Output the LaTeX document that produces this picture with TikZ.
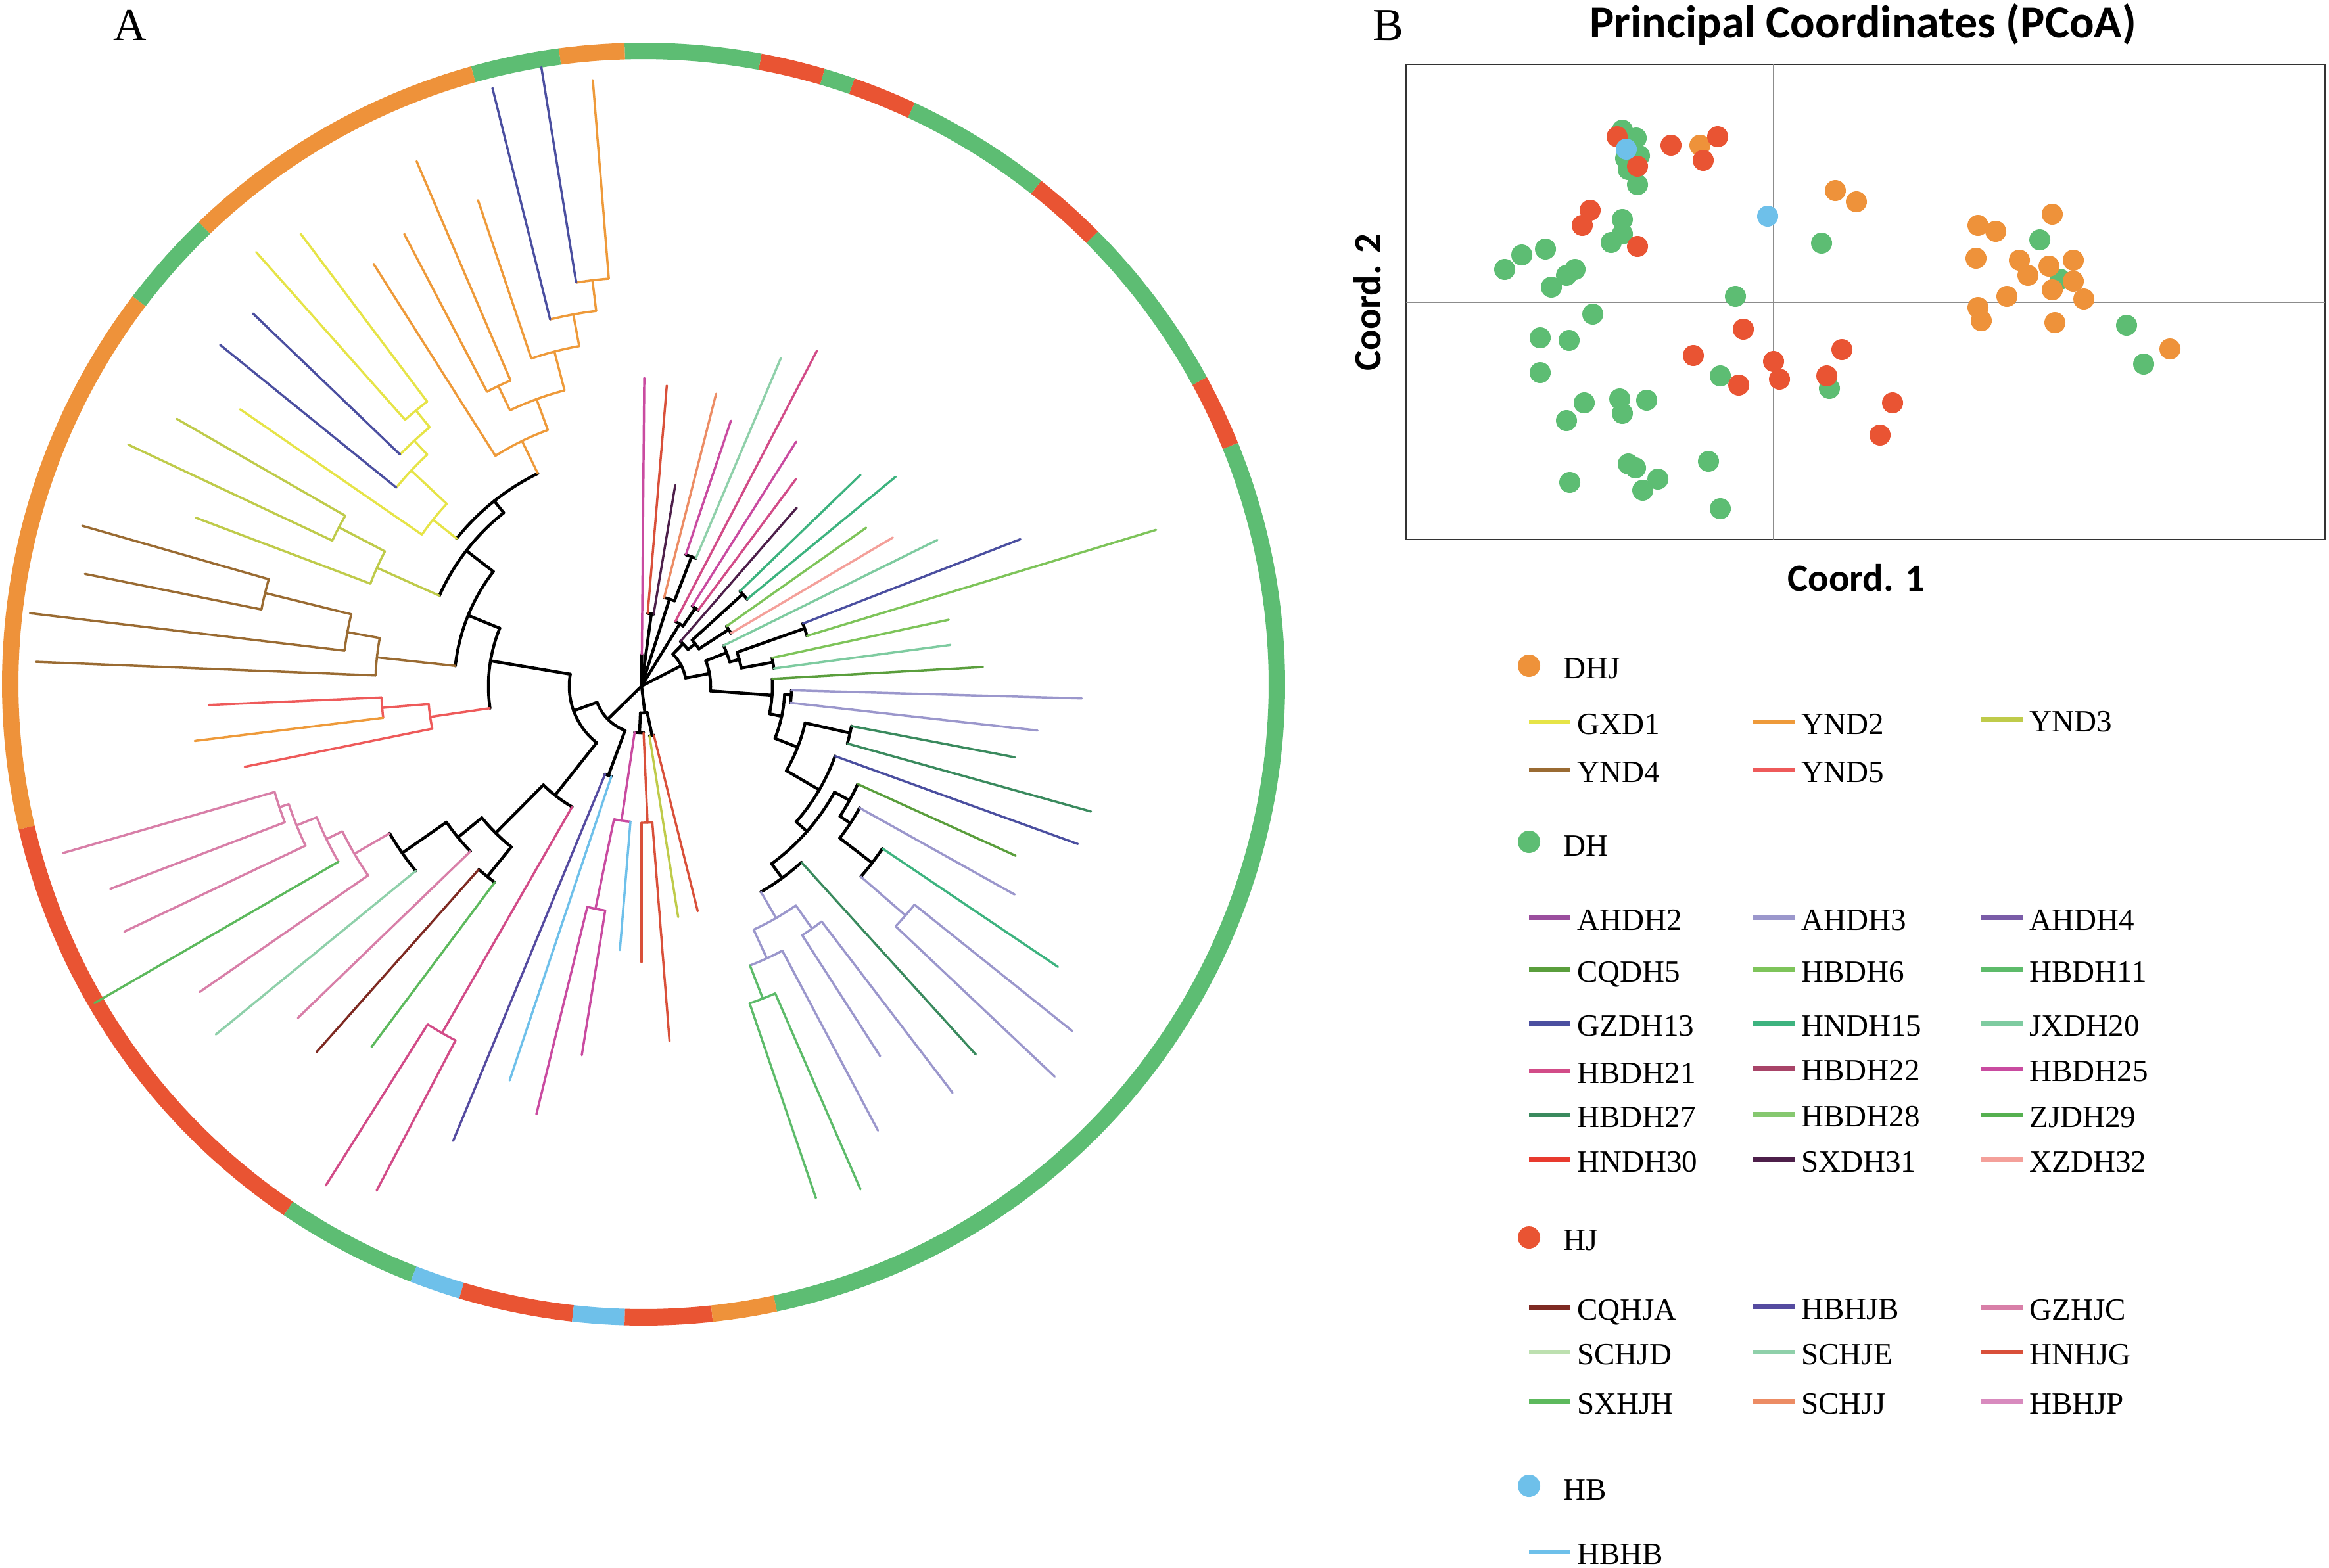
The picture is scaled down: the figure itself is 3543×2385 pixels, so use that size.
\documentclass[tikz,border=0pt]{standalone}
\usepackage{fontspec}
\setmainfont{Liberation Serif}
\newfontfamily\carlitofont{Carlito}
% group colours
\definecolor{dhjc}{RGB}{238,146,58}
\definecolor{dhc}{RGB}{93,189,115}
\definecolor{hjc}{RGB}{233,84,51}
\definecolor{hbc}{RGB}{110,192,234}
% population colours
\definecolor{gxd1}{RGB}{230,228,71}
\definecolor{ynd2}{RGB}{238,154,58}
\definecolor{ynd3}{RGB}{191,203,74}
\definecolor{ynd4}{RGB}{154,107,50}
\definecolor{ynd5}{RGB}{238,90,90}
\definecolor{ahdh2}{RGB}{155,78,158}
\definecolor{ahdh3}{RGB}{155,151,204}
\definecolor{ahdh4}{RGB}{122,92,168}
\definecolor{cqdh5}{RGB}{90,158,60}
\definecolor{hbdh6}{RGB}{126,196,90}
\definecolor{hbdh11}{RGB}{93,187,106}
\definecolor{gzdh13}{RGB}{75,79,160}
\definecolor{hndh15}{RGB}{61,179,127}
\definecolor{jxdh20}{RGB}{126,203,160}
\definecolor{hbdh21}{RGB}{210,76,136}
\definecolor{hbdh22}{RGB}{168,68,104}
\definecolor{hbdh25}{RGB}{201,75,160}
\definecolor{hbdh27}{RGB}{58,138,94}
\definecolor{hbdh28}{RGB}{134,200,112}
\definecolor{zjdh29}{RGB}{85,176,80}
\definecolor{hndh30}{RGB}{232,58,46}
\definecolor{sxdh31}{RGB}{77,31,74}
\definecolor{xzdh32}{RGB}{244,160,154}
\definecolor{cqhja}{RGB}{126,42,34}
\definecolor{hbhjb}{RGB}{85,75,160}
\definecolor{gzhjc}{RGB}{216,127,168}
\definecolor{schjd}{RGB}{189,224,176}
\definecolor{schje}{RGB}{143,208,170}
\definecolor{hnhjg}{RGB}{217,80,58}
\definecolor{sxhjh}{RGB}{93,185,93}
\definecolor{schjj}{RGB}{236,140,100}
\definecolor{hbhjp}{RGB}{216,138,190}
\definecolor{hbhb}{RGB}{110,192,234}
% radial branch: angle, inner r, outer r, colour
\newcommand{\trbranch}[4]{\draw[#4] (#1:#2) -- (#1:#3);}
% connecting arc: start angle, end angle, r, colour
\newcommand{\trarc}[4]{\draw[#4] (#1:#3) arc[start angle=#1,end angle=#2,radius=#3];}
\begin{document}
\begin{tikzpicture}[x=0.75pt,y=0.75pt,yscale=-1,xscale=1,
  kk/.style={black,line width=3.4pt},
  lgtxt/.style={anchor=base west,inner sep=0pt,font=\fontsize{35.3}{40}\selectfont},
  axtxt/.style={inner sep=0.75pt,font=\carlitofont\bfseries\fontsize{44}{50}\selectfont}]
\useasboundingbox (0,0) rectangle (3543,2385);
\fill[white] (0,0) rectangle (3543,2385);

% Text Node
\draw (198,61) node [anchor=base][inner sep=0.75pt,font=\fontsize{52.5}{60}\selectfont] (labA) {A};
% Text Node
\draw (2112,61) node [anchor=base][inner sep=0.75pt,font=\fontsize{52.5}{60}\selectfont] (labB) {B};

%Shape: Ring of groups
\begin{scope}[shift={(979,1041)},yscale=-1,line width=18.75pt,line cap=butt]
\foreach \a/\b/\c in {-78/22.1/dhc, 22.1/28.6/hjc, 28.6/44.9/dhc, 44.9/51.7/hjc, 51.7/65/dhc,
  65/70.8/hjc, 70.8/73.6/dhc, 73.6/79.4/hjc, 79.4/91.7/dhc, 91.7/97.6/dhjc, 97.6/105.6/dhc,
  105.6/133.9/dhjc, 133.9/142.8/dhc, 142.8/193.1/dhjc, 193.1/235.9/hjc, 235.9/248.7/dhc,
  248.7/253.3/hbc, 253.3/263.6/hjc, 263.6/268.3/hbc, 268.3/276.2/hjc, 276.2/282/dhjc}
  \draw[\c] (\a:963.5) arc[start angle=\a,end angle=\b,radius=963.5];
\end{scope}

%Shape: Tree
\begin{scope}[shift={(976,1044)},yscale=-1,line width=2.6pt,line cap=round]
% upper fan at the root
\trbranch{89.5}{0}{48}{kk}
\trbranch{89.5}{48}{469}{hbdh25}
\trbranch{82.3}{0}{111}{kk}
\trarc{80.5}{85.2}{111}{kk}
\trbranch{85.2}{111}{459}{hnhjg}
\trbranch{80.5}{111}{310}{sxdh31}
\trbranch{72.2}{0}{139}{kk}
\trarc{68.9}{75.7}{139}{kk}
\trbranch{75.7}{139}{459}{schjj}
\trbranch{68.9}{139}{211}{kk}
\trarc{67}{71.4}{211}{kk}
\trbranch{71.4}{211}{426}{hbdh25}
\trbranch{67}{211}{542}{schje}
\trbranch{58.5}{0}{111}{kk}
\trarc{55.4}{62.4}{111}{kk}
\trbranch{62.4}{111}{576}{hbdh21}
\trbranch{55.4}{111}{144}{kk}
\trarc{53.3}{57.7}{144}{kk}
\trbranch{57.7}{144}{440}{hbdh25}
\trbranch{53.3}{144}{393}{hbdh21}
% right side
\trbranch{27.3}{0}{68}{kk}
\trarc{10.5}{45.6}{68}{kk}
\trbranch{45.6}{68}{90}{kk}
\trarc{38.3}{49}{90}{kk}
\trbranch{49}{90}{360}{sxdh31}
\trbranch{38.3}{90}{104}{kk}
\trarc{33}{42.3}{104}{kk}
\trbranch{42.3}{104}{208}{kk}
\trarc{39.5}{44}{208}{kk}
\trbranch{44}{208}{463}{hndh15}
\trbranch{39.5}{208}{501}{hndh15}
\trbranch{33}{104}{158}{kk}
\trarc{30.6}{35.2}{158}{kk}
\trbranch{35.2}{158}{418}{hbdh6}
\trbranch{30.6}{158}{444}{xzdh32}
\trbranch{10.5}{68}{105}{kk}
\trarc{-4}{21.5}{105}{kk}
\trbranch{21.5}{105}{139}{kk}
\trarc{15.3}{26.3}{139}{kk}
\trbranch{26.3}{139}{502}{jxdh20}
\trbranch{15.3}{139}{154}{kk}
\trarc{10.3}{19.5}{154}{kk}
\trbranch{19.5}{154}{263}{kk}
\trarc{16.9}{21.2}{263}{kk}
\trbranch{21.2}{263}{618}{gzdh13}
\trbranch{16.9}{263}{818}{hbdh6}
\trbranch{10.3}{154}{203}{kk}
\trarc{7.6}{12.2}{203}{kk}
\trbranch{12.2}{203}{478}{hbdh6}
\trbranch{7.6}{203}{474}{jxdh20}
\trbranch{-4}{105}{199}{kk}
\trarc{-12.2}{3.2}{199}{kk}
\trbranch{3.2}{199}{520}{cqdh5}
\trbranch{-12.2}{199}{218}{kk}
\trarc{-21.4}{-3.3}{218}{kk}
\trbranch{-3.3}{218}{228}{kk}
\trarc{-6.4}{-1.6}{228}{kk}
\trbranch{-1.6}{228}{670}{ahdh3}
\trbranch{-6.4}{228}{606}{ahdh3}
\trbranch{-21.4}{218}{255}{kk}
\trarc{-30.3}{-12.7}{255}{kk}
\trbranch{-12.7}{255}{325}{kk}
\trarc{-15.6}{-10.8}{325}{kk}
\trbranch{-10.8}{325}{578}{hbdh27}
\trbranch{-15.6}{325}{710}{hbdh27}
\trbranch{-30.3}{255}{313}{kk}
\trarc{-41.3}{-19.9}{313}{kk}
\trbranch{-19.9}{313}{706}{gzdh13}
\trbranch{-41.3}{313}{335}{kk}
\trarc{-53.8}{-28.8}{335}{kk}
\trbranch{-28.8}{335}{361}{kk}
\trarc{-33.3}{-24.4}{361}{kk}
\trbranch{-24.4}{361}{625}{cqdh5}
\trbranch{-33.3}{361}{380}{kk}
\trarc{-37.5}{-29.2}{380}{kk}
\trbranch{-29.2}{380}{650}{ahdh3}
\trbranch{-37.5}{380}{442}{kk}
\trarc{-41}{-34}{442}{kk}
\trbranch{-34}{442}{764}{hndh15}
\trbranch{-41}{442}{532}{ahdh3}
\trarc{-43.4}{-38.7}{532}{ahdh3}
\trbranch{-43.4}{532}{865}{ahdh3}
\trbranch{-38.7}{532}{840}{ahdh3}
\trbranch{-53.8}{335}{362}{kk}
\trarc{-59.9}{-47.8}{362}{kk}
\trbranch{-47.8}{362}{757}{hbdh27}
\trbranch{-59.9}{362}{408}{ahdh3}
\trarc{-65.3}{-54.9}{408}{ahdh3}
\trbranch{-54.9}{408}{451}{ahdh3}
\trarc{-57.2}{-52.6}{451}{ahdh3}
\trbranch{-57.2}{451}{670}{ahdh3}
\trbranch{-52.6}{451}{779}{ahdh3}
\trbranch{-65.3}{408}{456}{ahdh3}
\trarc{-68.8}{-62}{456}{ahdh3}
\trbranch{-62}{456}{766}{ahdh3}
\trbranch{-68.8}{456}{510}{hbdh11}
\trarc{-71.2}{-66.5}{510}{hbdh11}
\trbranch{-71.2}{510}{823}{hbdh11}
\trbranch{-66.5}{510}{835}{hbdh11}
% bottom
\trbranch{277}{0}{41}{kk}
\trarc{267.5}{282}{41}{kk}
\trbranch{267.5}{41}{71}{kk}
\trarc{261.5}{272.5}{71}{kk}
\trbranch{261.5}{71}{207}{hbdh25}
\trarc{258.3}{265.3}{207}{hbdh25}
\trbranch{258.3}{207}{346}{hbdh25}
\trarc{256.2}{260.8}{346}{hbdh25}
\trbranch{256.2}{346}{671}{hbdh25}
\trbranch{260.8}{346}{569}{hbdh25}
\trbranch{265.3}{207}{403}{hbhb}
\trbranch{272.5}{71}{208}{hnhjg}
\trarc{270}{274.5}{208}{hnhjg}
\trbranch{270}{208}{420}{hnhjg}
\trbranch{274.5}{208}{542}{hnhjg}
\trbranch{282}{41}{77}{kk}
\trarc{279}{284}{77}{kk}
\trbranch{279}{77}{356}{ynd3}
\trbranch{284}{77}{353}{hnhjg}
% bottom left
\trbranch{224.4}{0}{72}{kk}
\trarc{200}{249.6}{72}{kk}
\trbranch{249.6}{72}{145}{kk}
\trarc{247.5}{251.5}{145}{kk}
\trbranch{247.5}{145}{749}{hbhjb}
\trbranch{251.5}{145}{633}{hbhb}
\trbranch{200}{72}{110}{kk}
\trarc{170.5}{231.6}{110}{kk}
\trbranch{231.6}{110}{212}{kk}
\trarc{225.2}{240.1}{212}{kk}
\trbranch{240.1}{212}{609}{hbdh21}
\trarc{237.7}{242.3}{609}{hbdh21}
\trbranch{237.7}{609}{899}{hbdh21}
\trbranch{242.3}{609}{867}{hbdh21}
\trbranch{225.2}{212}{315}{kk}
\trarc{219.5}{231}{315}{kk}
\trbranch{231}{315}{373}{kk}
\trarc{228.4}{233.2}{373}{kk}
\trbranch{228.4}{373}{745}{cqhja}
\trbranch{233.2}{373}{686}{sxhjh}
\trbranch{219.5}{315}{362}{kk}
\trarc{214.9}{224}{362}{kk}
\trbranch{224}{362}{727}{gzhjc}
\trbranch{214.9}{362}{444}{kk}
\trarc{210.3}{219.3}{444}{kk}
\trbranch{219.3}{444}{837}{schje}
\trbranch{210.3}{444}{506}{gzhjc}
\trarc{205.9}{214.7}{506}{gzhjc}
\trbranch{214.7}{506}{818}{gzhjc}
\trbranch{205.9}{506}{533}{gzhjc}
\trarc{202}{210.1}{533}{gzhjc}
\trbranch{210.1}{533}{962}{sxhjh}
\trbranch{202}{533}{566}{gzhjc}
\trarc{198.5}{205.4}{566}{gzhjc}
\trbranch{205.4}{566}{871}{gzhjc}
\trbranch{198.5}{566}{581}{gzhjc}
\trarc{196.1}{200.9}{581}{gzhjc}
\trbranch{196.1}{581}{916}{gzhjc}
\trbranch{200.9}{581}{865}{gzhjc}
% left
\trbranch{170.5}{110}{233}{kk}
\trarc{157.8}{188.3}{233}{kk}
\trbranch{188.3}{233}{325}{ynd5}
\trarc{184.8}{191.5}{325}{ynd5}
\trbranch{191.5}{325}{616}{ynd5}
\trbranch{184.8}{325}{396}{ynd5}
\trarc{182.5}{187}{396}{ynd5}
\trbranch{182.5}{396}{659}{ynd5}
\trbranch{187}{396}{685}{ynd2}
\trbranch{157.8}{233}{285}{kk}
\trarc{142.3}{173.8}{285}{kk}
\trbranch{173.8}{285}{405}{ynd4}
\trarc{169.6}{177.7}{405}{ynd4}
\trbranch{177.7}{405}{922}{ynd4}
\trbranch{169.6}{405}{455}{ynd4}
\trarc{166.1}{173.2}{455}{ynd4}
\trbranch{173.2}{455}{937}{ynd4}
\trbranch{166.1}{455}{590}{ynd4}
\trarc{164}{168.6}{590}{ynd4}
\trbranch{164}{590}{885}{ynd4}
\trbranch{168.6}{590}{864}{ynd4}
\trbranch{142.3}{285}{337}{kk}
\trarc{128.5}{155.9}{337}{kk}
\trbranch{155.9}{337}{441}{ynd3}
\trarc{152.3}{159.3}{441}{ynd3}
\trbranch{159.3}{441}{725}{ynd3}
\trbranch{152.3}{441}{520}{ynd3}
\trarc{150.1}{154.8}{520}{ynd3}
\trbranch{150.1}{520}{816}{ynd3}
\trbranch{154.8}{520}{863}{ynd3}
% upper left
\trbranch{128.5}{337}{360}{kk}
\trarc{116}{141.4}{360}{kk}
\trbranch{141.4}{360}{406}{gxd1}
\trarc{136.9}{145.4}{406}{gxd1}
\trbranch{145.4}{406}{742}{gxd1}
\trbranch{136.9}{406}{480}{gxd1}
\trarc{132.8}{141}{480}{gxd1}
\trbranch{141}{480}{825}{gzdh13}
\trbranch{132.8}{480}{509}{gxd1}
\trarc{129.3}{136.2}{509}{gxd1}
\trbranch{136.2}{509}{819}{gzdh13}
\trbranch{129.3}{509}{542}{gxd1}
\trarc{127}{131.6}{542}{gxd1}
\trbranch{127}{542}{862}{gxd1}
\trbranch{131.6}{542}{883}{gxd1}
\trbranch{116}{360}{415}{ynd2}
\trarc{110.1}{122.4}{415}{ynd2}
\trbranch{122.4}{415}{761}{ynd2}
\trbranch{110.1}{415}{465}{ynd2}
\trarc{104.6}{115.5}{465}{ynd2}
\trbranch{115.5}{465}{506}{ynd2}
\trarc{113.2}{117.7}{506}{ynd2}
\trbranch{113.2}{506}{869}{ynd2}
\trbranch{117.7}{506}{777}{ynd2}
\trbranch{104.6}{465}{526}{ynd2}
\trarc{100.4}{108.6}{526}{ynd2}
\trbranch{108.6}{526}{780}{ynd2}
\trbranch{100.4}{526}{575}{ynd2}
\trarc{96.9}{104}{575}{ynd2}
\trbranch{104}{575}{938}{gzdh13}
\trbranch{96.9}{575}{622}{ynd2}
\trarc{94.6}{99.2}{622}{ynd2}
\trbranch{94.6}{622}{925}{ynd2}
\trbranch{99.2}{622}{954}{gzdh13}
\end{scope}

% Text Node
\draw (2834,57) node [anchor=base][inner sep=0.75pt,font=\carlitofont\bfseries\fontsize{52.5}{60}\selectfont] (pcoaTitle) {Principal Coordinates (PCoA)};
%Shape: Rectangle
\draw [line width=1.5pt,black!80] (2139,98) rectangle (3537,821);
%Straight Lines
\draw [line width=1.1pt,black!45] (2698,98) -- (2698,821);
\draw [line width=1.1pt,black!45] (2139,460) -- (3537,460);
% Text Node
\draw (2824,899) node [anchor=base][axtxt] (coordOne) {Coord. 1};
% Text Node
\draw (2100,460) node [anchor=base,rotate=90][axtxt] (coordTwo) {Coord. 2};

%Shape: PCoA points
\foreach \px/\py in {2468/198, 2489/210, 2473/241, 2494/237, 2477/258, 2491/281, 2771/370,
  2468/334, 2451/369, 2468/356, 2351/379, 2315/388, 2289/410, 2396/410, 2383/419, 2360/437,
  2640/451, 2423/478, 2343/514, 2387/518, 2343/567, 2617/572, 2783/591, 2410/613, 2464/607,
  2505/609, 2383/640, 2468/629, 2477/706, 2488/712, 2599/702, 2388/734, 2522/729, 2499/746,
  2617/774, 3103/365, 3134/425, 3235/495, 3261/554}
  \fill[dhc] (\px,\py) circle [x radius=16, y radius=16];
\foreach \px/\py in {2586/221, 2792/290, 2824/307, 3122/326, 3009/343, 3036/352, 3006/393,
  3072/396, 3117/405, 3154/396, 3085/419, 3154/428, 3122/441, 3053/451, 3170/455, 3009/468,
  3014/488, 3126/491, 3301/531}
  \fill[dhjc] (\px,\py) circle [x radius=16, y radius=16];
\foreach \px/\py in {2460/208, 2491/253, 2542/221, 2613/208, 2591/244, 2419/320, 2407/343,
  2491/375, 2652/501, 2576/541, 2645/586, 2698/550, 2707/577, 2802/532, 2779/572, 2879/613,
  2860/662}
  \fill[hjc] (\px,\py) circle [x radius=16, y radius=16];
\foreach \px/\py in {2474/227, 2689/329}
  \fill[hbc] (\px,\py) circle [x radius=16, y radius=16];

%Shape: Legend group markers
\fill[dhjc] (2326,1013) circle [x radius=17, y radius=17];
\draw (2378,1032) node [lgtxt] (grpDHJ) {DHJ};
\fill[dhc] (2326,1281) circle [x radius=17, y radius=17];
\draw (2378,1302) node [lgtxt] (grpDH) {DH};
\fill[hjc] (2326,1883) circle [x radius=17, y radius=17];
\draw (2378,1902) node [lgtxt] (grpHJ) {HJ};
\fill[hbc] (2326,2261) circle [x radius=17, y radius=17];
\draw (2378,2282) node [lgtxt] (grpHB) {HB};

%Straight Lines: Legend entries
\foreach \lx/\ly/\lc/\lt in {2326/1098/gxd1/GXD1, 2667/1098/ynd2/YND2, 3014/1094/ynd3/YND3,
  2326/1171/ynd4/YND4, 2667/1171/ynd5/YND5,
  2326/1396/ahdh2/AHDH2, 2667/1396/ahdh3/AHDH3, 3014/1396/ahdh4/AHDH4,
  2326/1475/cqdh5/CQDH5, 2667/1475/hbdh6/HBDH6, 3014/1475/hbdh11/HBDH11,
  2326/1557/gzdh13/GZDH13, 2667/1557/hndh15/HNDH15, 3014/1557/jxdh20/JXDH20,
  2326/1629/hbdh21/HBDH21, 2667/1625/hbdh22/HBDH22, 3014/1626/hbdh25/HBDH25,
  2326/1696/hbdh27/HBDH27, 2667/1695/hbdh28/HBDH28, 3014/1696/zjdh29/ZJDH29,
  2326/1764/hndh30/HNDH30, 2667/1764/sxdh31/SXDH31, 3014/1764/xzdh32/XZDH32,
  2326/1989/cqhja/CQHJA, 2667/1988/hbhjb/HBHJB, 3014/1989/gzhjc/GZHJC,
  2326/2057/schjd/SCHJD, 2667/2057/schje/SCHJE, 3014/2057/hnhjg/HNHJG,
  2326/2132/sxhjh/SXHJH, 2667/2132/schjj/SCHJJ, 3014/2132/hbhjp/HBHJP,
  2326/2361/hbhb/HBHB}
{
  \draw [\lc,line width=5.25pt] (\lx,\ly) -- (\lx+63,\ly);
  \draw (\lx+73,\ly+19) node [lgtxt] (lg\lt) {\lt};
}

\end{tikzpicture}
\end{document}
